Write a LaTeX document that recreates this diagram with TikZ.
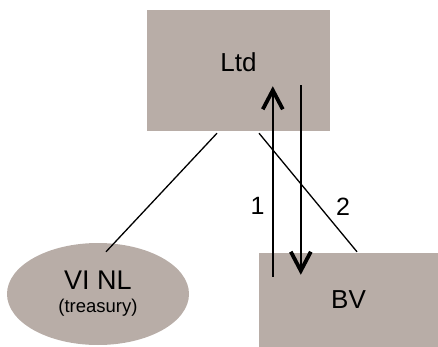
\documentclass[tikz,border=0pt]{standalone}
\usepackage{fontspec}
\setmainfont{Liberation Sans}
\usetikzlibrary{calc,arrows.meta,shapes.geometric}
\definecolor{boxfill}{RGB}{184,173,167}
\tikzset{
  entity/.style={fill=boxfill, draw=none, inner sep=0pt},
  bigtxt/.style={font=\fontsize{26}{30}\selectfont},
  thinline/.style={line width=1.3pt, black},
  flow/.style={line width=2pt, black, -{Straight Barb[length=19pt,width=20pt,line width=3.8pt]}},
}
\begin{document}
\begin{tikzpicture}[x=1pt,y=-1pt]
\useasboundingbox (0,0) rectangle (438,347);
\node[entity, rectangle, minimum width=183pt, minimum height=121pt,
      label={[bigtxt, yshift=8pt]center:Ltd}] (ltd) at (238.5,70.5) {};
\node[entity, rectangle, minimum width=179pt, minimum height=94pt, bigtxt] (bv) at (348.5,300) {BV};
\node[entity, ellipse, minimum width=182pt, minimum height=102pt, align=center,
      font=\fontsize{18.5}{23}\selectfont] (vinl) at (98,294)
  {{\fontsize{27}{23}\selectfont VI NL}\\(treasury)};
\coordinate (l1a) at ($(ltd.south)+(-21.5,2)$);
\coordinate (l1b) at ($(vinl.north)+(8,9)$);
\coordinate (l2a) at ($(ltd.south)+(20.5,2)$);
\coordinate (l2b) at ($(bv.north)+(8.5,-1)$);
\draw[thinline] (l1a) -- (l1b);
\draw[thinline] (l2a) -- (l2b);
\coordinate (upA) at ($(bv.north west)+(14,24)$);
\coordinate (upB) at ($(ltd.south west)+(126,-45)$);
\coordinate (dnA) at ($(ltd.south west)+(154,-46)$);
\coordinate (dnB) at ($(bv.north west)+(42,22)$);
\draw[flow] (upA) -- (upB) node[pos=0.37, left=4pt, font=\fontsize{25}{28}\selectfont] (n1) {1};
\draw[flow] (dnA) -- (dnB) node[pos=0.64, right=31pt, font=\fontsize{25}{28}\selectfont] (n2) {2};
\end{tikzpicture}
\end{document}
